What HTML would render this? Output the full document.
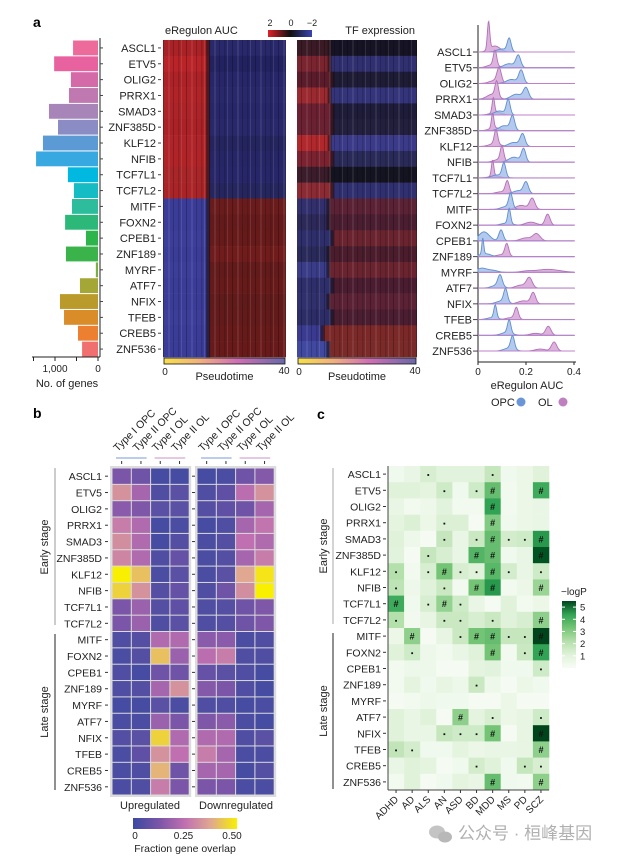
<!DOCTYPE html>
<html><head><meta charset="utf-8">
<style>
html,body{margin:0;padding:0;background:#fff;}
svg{display:block;font-family:"Liberation Sans","Noto Sans CJK SC",sans-serif;}
</style></head>
<body>
<svg id="fig" width="620" height="859" viewBox="0 0 620 859" xmlns="http://www.w3.org/2000/svg">
<defs>
<linearGradient id="ptGrad" x1="0" x2="1" y1="0" y2="0">
<stop offset="0" stop-color="#f6e04c"/><stop offset="0.3" stop-color="#f0b080"/><stop offset="0.6" stop-color="#d070b4"/><stop offset="1" stop-color="#6868a8"/></linearGradient>
<linearGradient id="aucGrad" x1="0" x2="1"><stop offset="0" stop-color="#e0202a"/><stop offset="0.5" stop-color="#101010"/><stop offset="1" stop-color="#3a44b0"/></linearGradient>
<linearGradient id="fracGrad" x1="0" x2="1"><stop offset="0" stop-color="#3a4aa0"/><stop offset="0.25" stop-color="#7a55a8"/><stop offset="0.5" stop-color="#c070b0"/><stop offset="0.75" stop-color="#e0a890"/><stop offset="1" stop-color="#f8f000"/></linearGradient>
<linearGradient id="logpGrad" x1="0" x2="0" y1="1" y2="0"><stop offset="0" stop-color="#f7fcf5"/><stop offset="0.2" stop-color="#e0f2da"/><stop offset="0.4" stop-color="#b4e0ab"/><stop offset="0.6" stop-color="#74c476"/><stop offset="0.8" stop-color="#31a354"/><stop offset="1" stop-color="#00441b"/></linearGradient>
<pattern id="stripes" patternUnits="userSpaceOnUse" width="23" height="10">
<rect x="2" y="0" width="1" height="10" fill="#000" opacity="0.25"/><rect x="7" y="0" width="2" height="10" fill="#fff" opacity="0.08"/><rect x="12" y="0" width="1" height="10" fill="#000" opacity="0.2"/><rect x="17" y="0" width="1.5" height="10" fill="#000" opacity="0.15"/><rect x="20" y="0" width="1" height="10" fill="#fff" opacity="0.1"/>
</pattern>
</defs>
<g id="root"></g>
</svg>
<script>
const tfs=["ASCL1","ETV5","OLIG2","PRRX1","SMAD3","ZNF385D","KLF12","NFIB","TCF7L1","TCF7L2","MITF","FOXN2","CPEB1","ZNF189","MYRF","ATF7","NFIX","TFEB","CREB5","ZNF536"];
const geneCounts=[580,1020,630,675,1140,930,1280,1440,700,560,605,765,280,745,50,420,885,790,465,370];
const barColors=["#ec6b9a","#e962a0","#d46aa8","#c078b0","#a785b8","#8c8cc4","#5b9ad4","#38a8e0","#00b8e0","#16bcc4","#2dbd9c","#2cb878","#2db44a","#3ab44a","#7ab040","#a4a636","#bb9a2c","#d98c28","#ec8030","#f07070"];
const barTicks=[1500,1000,500,0];
const barTickLabels={1000:"1,000",0:"0"};
const aucLeft=["#a82226","#b82428","#ac2226","#b02428","#ac2428","#aa2226","#ae2428","#b02428","#a82628","#a82426","#3a3c98","#3a3c98","#3c3e9a","#3a3c98","#3c3e9a","#3a3c98","#3a3c98","#3c3e9a","#3a3c98","#3a3c98"];
const aucRight=["#28286a","#222260","#262668","#28286a","#262668","#28286a","#24245e","#262666","#262668","#26265e","#6a1c1c","#641a1a","#661a1a","#701c1c","#621a1a","#661a1a","#601a1a","#621a1a","#661a1a","#681a1a"];
const tfLeft=["#3a1a24","#7a2430","#5a1c2a","#9a2a30","#6a2030","#6a2232","#b0282c","#7a2230","#3a1c2a","#8a2a32","#32306c","#2c2858","#2e2e6a","#2a2a5a","#3a3c88","#2e2e6a","#30306c","#2c2c66","#3a3a90","#4048a0"];
const tfRight=["#161424","#303070","#1e1c34","#34347a","#1e1c38","#22203c","#3a3a88","#2a2a58","#141420","#303070","#5a2234","#4a1e30","#6a2430","#4a1c2c","#6a2430","#4a1c30","#5a2234","#4a1e30","#7a2828","#7a2a28"];
const tfSplit=[0.28,0.28,0.3,0.28,0.3,0.3,0.28,0.3,0.28,0.3,0.27,0.27,0.3,0.27,0.27,0.3,0.27,0.3,0.22,0.27];
const opcMu=[0.13,0.168,0.18,0.2,0.126,0.144,0.186,0.19,0.108,0.2,0.136,0.13,0.096,0.02,0.015,0.092,0.115,0.072,0.13,0.144];
const opcH=[13,12,13,11,15,14,12,13,14,11,14,15,11,16,4,11,13,13,13,13];
const opcSd=[0.008,0.01,0.01,0.011,0.008,0.009,0.01,0.009,0.008,0.01,0.008,0.006,0.009,0.004,0.02,0.009,0.008,0.006,0.007,0.008];
const opc2Mu=[0.1,0.13,0.14,0.16,0.09,0.11,0.15,0.15,0.08,0.17,0.12,0.12,0.025,0.03,0.06,0.08,0.1,0.06,0.12,0.13];
const opc2H=[3,4,4,5,4,5,4,5,3,3,3,2,9,3,2,3,3,2,3,3];
const olMu=[0.044,0.071,0.088,0.078,0.064,0.061,0.075,0.1,0.061,0.122,0.226,0.29,0.244,0.12,0.29,0.214,0.23,0.16,0.293,0.317];
const olH=[28,15,14,15,15,15,14,14,16,12,11,11,7,12,3,10,11,11,9,9];
const olSd=[0.005,0.007,0.009,0.007,0.005,0.005,0.007,0.007,0.005,0.008,0.011,0.01,0.015,0.008,0.05,0.012,0.01,0.008,0.011,0.011];
const ol2Mu=[0.07,0.06,0.07,0.06,0.075,0.07,0.07,0.09,0.07,0.1,0.18,0.22,0.2,0.1,0.2,0.18,0.19,0.14,0.24,0.26];
const ol2H=[6,3,3,5,3,3,3,3,2,2,4,3,3,2,1,3,3,2,2,2];
const ridgeTicks=[0,0.2,0.4];
const groups=["Type I OPC","Type II OPC","Type I OL","Type II OL"];
const fracUp=[[.12,.10,.02,.02],[.33,.2,.04,.06],[.15,.13,.06,.06],[.28,.22,.02,.03],[.32,.22,.02,.05],[.3,.22,.04,.08],[.5,.42,.03,.06],[.45,.33,.05,.08],[.12,.18,.05,.07],[.12,.18,.04,.06],[.04,.05,.22,.22],[.03,.05,.42,.18],[.04,.02,.1,.1],[.04,.05,.2,.33],[.02,.02,.06,.03],[.03,.03,.18,.12],[.05,.06,.45,.22],[.03,.07,.33,.25],[.03,.04,.4,.1],[.03,.04,.28,.12]];
const fracDown=[[.02,.03,.10,.14],[.04,.07,.24,.33],[.05,.07,.1,.2],[.02,.04,.2,.26],[.03,.05,.25,.22],[.03,.05,.2,.28],[.03,.06,.38,.48],[.04,.1,.32,.5],[.04,.05,.1,.13],[.04,.05,.1,.13],[.15,.15,.03,.04],[.24,.28,.04,.04],[.08,.06,.04,.02],[.14,.12,.04,.02],[.04,.04,.02,.03],[.13,.15,.03,.02],[.22,.22,.04,.06],[.28,.2,.03,.03],[.2,.2,.02,.05],[.12,.12,.03,.03]];
const fracTicks=[0,0.25,0.5];
const fracTickLabels=["0","0.25","0.50"];
const diseases=["ADHD","AD","ALS","AN","ASD","BD","MDD","MS","PD","SCZ"];
const logP=[[.3,.6,1.2,.9,.9,.9,1.6,.3,.5,1.0],[1.0,1.0,.8,1.4,.3,1.4,3.2,.2,.5,3.8],[.6,.2,.4,.9,.2,.2,4,.2,.5,.6],[.8,1.1,.5,1.1,1.1,.1,2.8,.3,.5,.6],[1.0,.4,.1,1.6,.6,1.5,3.2,1.3,1.4,4.2],[.9,.1,1.6,1.2,.6,3.5,3.2,.3,.6,5.3],[2,.2,1.2,3,1.2,1,3.4,1.3,.6,1.4],[1.8,.4,1.0,1.5,.2,3,4.2,.2,.5,2.4],[3.8,.3,1.2,2.5,1.4,.6,.1,1.0,.2,.5],[2,.2,.7,1.5,1.5,1.2,1.5,1,1.2,2.6],[.5,2.6,.1,.7,1.5,3,3.2,1.6,1.6,5.5],[1,1.4,.4,.2,.6,1,3,.2,1.5,4],[.2,.4,.4,.1,.1,.8,.9,.3,.3,1.4],[.2,.8,.3,.7,.4,1.5,.4,.1,.5,.3],[.1,.2,.4,.3,.3,.1,.1,.5,.1,.1],[1,.6,1,.1,2.6,.8,1.2,.5,.7,1.4],[1,.6,.6,1.6,1.4,1.4,3,.1,.7,5.5],[1.7,1.3,.3,.3,.8,.5,.6,.6,.7,2.6],[.6,1,.8,.1,.3,1.3,1,.3,1.6,1.2],[.2,1,.1,.3,.8,.6,3.2,.3,.2,2.6]];
const marks=[
"  .   .   ","   . .#  #","      #   ","   .  #   ","   . .#..#","  .  ##  #",". .#..#. .",".  . ##  #","# .#.     ",".  .. .  #",
" #  .##..#"," .    # .#","         .","     .    ","          ","    # .  .","   ...#  #","..       #","     .  ..","      #  #"];
const logTicks=[1,2,3,4,5];

const svg=document.getElementById('root');
const NS="http://www.w3.org/2000/svg";
function mk(tag,attrs,parent){const e=document.createElementNS(NS,tag);for(const k in attrs)e.setAttribute(k,attrs[k]);(parent||svg).appendChild(e);return e;}
function txt(x,y,s,attrs,parent){const t=mk('text',Object.assign({x:x,y:y,'font-size':11,fill:'#222'},attrs||{}),parent);t.textContent=s;return t;}

// ---------- Panel a ----------
const rowTop=40,rowH=15.85;
const rowY=i=>rowTop+i*rowH;
const barX=v=>98-v*0.043;
let t=txt(33,27,"a",{'font-weight':'bold','font-size':14,fill:'#000'});

mk('line',{x1:100,y1:38,x2:100,y2:357,stroke:'#222','stroke-width':1});
mk('line',{x1:32,y1:357,x2:100,y2:357,stroke:'#222','stroke-width':1});
tfs.forEach((n,i)=>{
  const r=mk('rect',{x:barX(geneCounts[i]),y:rowY(i)+0.5,width:98-barX(geneCounts[i]),height:rowH-1,fill:barColors[i]});
  
  
  mk('line',{x1:100,y1:rowY(i)+rowH/2,x2:103,y2:rowY(i)+rowH/2,stroke:'#444'});
});
barTicks.forEach(v=>{mk('line',{x1:barX(v),y1:357,x2:barX(v),y2:361,stroke:'#222'});
 if(barTickLabels[v]!==undefined){const l=txt(barX(v),372,barTickLabels[v],{'text-anchor':'middle','font-size':10});}});
t=txt(67,387,"No. of genes",{'text-anchor':'middle','font-size':11});

tfs.forEach((n,i)=>{const l=txt(156,rowY(i)+rowH/2+4,n,{'text-anchor':'end','font-size':11});
 
 mk('line',{x1:158,y1:rowY(i)+rowH/2,x2:161,y2:rowY(i)+rowH/2,stroke:'#444'});});

function heat(x0,x1,left,right,split,name){
  const g=mk('g',{});
  tfs.forEach((n,i)=>{const xs=x0+(x1-x0)*split[i];
    mk('rect',{x:x0,y:rowY(i),width:xs-x0,height:rowH+0.3,fill:left[i]},g);
    mk('rect',{x:xs,y:rowY(i),width:x1-xs,height:rowH+0.3,fill:right[i]},g);
    mk('rect',{x:xs-3,y:rowY(i),width:4,height:rowH+0.3,fill:'#1a0e14',opacity:0.6},g);
  });
  mk('rect',{x:x0,y:rowTop,width:x1-x0,height:rowH*20,fill:'url(#stripes)'},g);
}
heat(163,286,aucLeft,aucRight,tfs.map(()=>0.375),'eregulon-auc-heatmap');
heat(297,417,tfLeft,tfRight,tfSplit,'tf-expression-heatmap');
t=txt(165,34,"eRegulon AUC",{'font-size':11});
t=txt(415,34,"TF expression",{'font-size':11,'text-anchor':'end'});
let cb=mk('rect',{x:268,y:30,width:44,height:7,fill:'url(#aucGrad)'});
txt(270,26,"2",{'font-size':9,'text-anchor':'middle'});txt(291,26,"0",{'font-size':9,'text-anchor':'middle'});txt(312,26,"−2",{'font-size':9,'text-anchor':'middle'});
[[163,286],[297,417]].forEach((p,k)=>{
  const b=mk('rect',{x:p[0]+1,y:358,width:p[1]-p[0]-2,height:6,fill:'url(#ptGrad)',stroke:'#111','stroke-width':0.8});
  
  txt(p[0]+2,375,"0",{'font-size':10,'text-anchor':'middle'});txt(p[1]-2,374,"40",{'font-size':10,'text-anchor':'middle'});
  const l=txt((p[0]+p[1])/2,380,"Pseudotime",{'font-size':11,'text-anchor':'middle'});
});

const rx=v=>478+v*240;
const ridgeBase=i=>52+i*15.74;
const gauss=(x,m,s)=>Math.exp(-0.5*((x-m)/s)*((x-m)/s));
mk('line',{x1:478,y1:25,x2:478,y2:362,stroke:'#222'});
mk('line',{x1:478,y1:362,x2:576,y2:362,stroke:'#222'});
tfs.forEach((n,i)=>{
  const y0=ridgeBase(i);
  const l=txt(472,y0+4,n,{'text-anchor':'end','font-size':11});
  mk('line',{x1:473,y1:y0,x2:478,y2:y0,stroke:'#444'});
  const dens=(x,m,h,s,m2,h2)=>h*gauss(x,m,s)+h2*gauss(x,m2,0.022);
  const series=[["ol",olMu[i],olH[i],olSd[i],ol2Mu[i],ol2H[i],'#d4a0d4','#b070b8'],["opc",opcMu[i],opcH[i],opcSd[i],opc2Mu[i],opc2H[i],'#a0bce8','#5f8fd0']];
  series.forEach(s=>{
    let d="M"+rx(0)+","+y0;
    for(let k=0;k<=160;k++){const x=k*0.4/160;d+=" L"+rx(x).toFixed(2)+","+(y0-dens(x,s[1],s[2],s[3],s[4],s[5])).toFixed(2);}
    d+=" L"+rx(0.4)+","+y0+" Z";
    const p=mk('path',{d:d,fill:s[6],'fill-opacity':0.8,stroke:s[7],'stroke-width':0.9});
    
    
  });
  mk('line',{x1:478,y1:y0,x2:575,y2:y0,stroke:'#c080c8','stroke-width':1});
});
ridgeTicks.forEach(v=>{mk('line',{x1:rx(v),y1:362,x2:rx(v),y2:365,stroke:'#222'});txt(rx(v),375,String(v),{'font-size':10,'text-anchor':'middle'});});
t=txt(527,389,"eRegulon AUC",{'font-size':11,'text-anchor':'middle'});
let lg=mk('g',{});
txt(491,406,"OPC",{'font-size':11},lg);mk('circle',{cx:521,cy:402,r:4.5,fill:'#6a96d8'},lg);
txt(538,406,"OL",{'font-size':11},lg);mk('circle',{cx:563,cy:402,r:4.5,fill:'#c080c0'},lg);

// ---------- Panel b ----------
t=txt(33,418,"b",{'font-weight':'bold','font-size':14,fill:'#000'});
const bTop=468,bRowH=16.35,bColW=19.3;
const bLeft=[112,197];
const fracScale=[[0,[58,74,160]],[0.12,[122,85,168]],[0.25,[192,112,176]],[0.38,[224,168,144]],[0.5,[248,240,0]]];
function fracColor(v){v=Math.max(0,Math.min(0.5,v));for(let k=1;k<fracScale.length;k++){if(v<=fracScale[k][0]){const a=fracScale[k-1],b=fracScale[k],f=(v-a[0])/(b[0]-a[0]);return 'rgb('+a[1].map((c,j)=>Math.round(c+(b[1][j]-c)*f)).join(',')+')';}}return 'rgb(248,240,0)';}
[fracUp,fracDown].forEach((mat,bk)=>{
  const x0=bLeft[bk];
  const bg=mk('rect',{x:x0-2,y:bTop-2,width:bColW*4+4,height:bRowH*20+4,fill:'#dcdcdc'});
  
  mat.forEach((row,i)=>row.forEach((v,j)=>{
    const c=mk('rect',{x:x0+j*bColW+0.5,y:bTop+i*bRowH+0.5,width:bColW-1,height:bRowH-1,fill:fracColor(v)});
    
    
  }));
  groups.forEach((gname,j)=>{const cx=x0+j*bColW+bColW/2;
    const l=txt(cx-4,452,gname,{'font-size':10.5,transform:'rotate(-45 '+(cx-4)+' 452)'});
    mk('line',{x1:cx,y1:461,x2:cx,y2:464,stroke:'#333'});});
  mk('line',{x1:x0+4,y1:458,x2:x0+2*bColW-4,y2:458,stroke:'#7a9ad8','stroke-width':1});
  mk('line',{x1:x0+2*bColW+4,y1:458,x2:x0+4*bColW-4,y2:458,stroke:'#c890c8','stroke-width':1});
});
tfs.forEach((n,i)=>{const y=bTop+i*bRowH+bRowH/2;
  const l=txt(102,y+4,n,{'text-anchor':'end','font-size':10.5});
  mk('line',{x1:105,y1:y,x2:108,y2:y,stroke:'#333'});mk('line',{x1:192,y1:y,x2:195,y2:y,stroke:'#333'});});
mk('line',{x1:55,y1:468,x2:55,y2:625,stroke:'#999'});mk('line',{x1:55,y1:634,x2:55,y2:790,stroke:'#222'});
t=txt(48,547,"Early stage",{'font-size':11,'text-anchor':'middle',transform:'rotate(-90 48 547)'});
t=txt(48,712,"Late stage",{'font-size':11,'text-anchor':'middle',transform:'rotate(-90 48 712)'});
t=txt(150,809,"Upregulated",{'font-size':11,'text-anchor':'middle'});
t=txt(236,809,"Downregulated",{'font-size':11,'text-anchor':'middle'});
cb=mk('rect',{x:133,y:818,width:104,height:11,fill:'url(#fracGrad)'});
const fx=v=>135+v*2*97;
fracTicks.forEach((v,k)=>txt(fx(v),839,fracTickLabels[k],{'font-size':10,'text-anchor':'middle'}));
t=txt(185,852,"Fraction gene overlap",{'font-size':10.5,'text-anchor':'middle'});

// ---------- Panel c ----------
t=txt(317,419,"c",{'font-weight':'bold','font-size':14,fill:'#000'});
const cTop=466,cRowH=16.2,cLeft=388,cColW=16.1;
const gScale=[[0,[247,252,245]],[1,[224,242,218]],[2,[180,224,171]],[3,[116,196,118]],[4,[49,163,84]],[5,[0,109,44]],[5.5,[0,68,27]]];
function gColor(v){v=Math.max(0,Math.min(5.5,v));for(let k=1;k<gScale.length;k++){if(v<=gScale[k][0]){const a=gScale[k-1],b=gScale[k],f=(v-a[0])/(b[0]-a[0]);return 'rgb('+a[1].map((c,j)=>Math.round(c+(b[1][j]-c)*f)).join(',')+')';}}return 'rgb(0,68,27)';}
logP.forEach((row,i)=>row.forEach((v,j)=>{
  const c=mk('rect',{x:cLeft+j*cColW,y:cTop+i*cRowH,width:cColW+0.3,height:cRowH+0.3,fill:gColor(v)});
  
  
  const m=(marks[i]||"")[j];
  if(m==='#'){txt(cLeft+j*cColW+cColW/2,cTop+i*cRowH+cRowH/2+3.5,"#",{'font-size':9,'font-weight':'bold','text-anchor':'middle',fill:'#111'});}
  else if(m==='.'){mk('rect',{x:cLeft+j*cColW+cColW/2-0.9,y:cTop+i*cRowH+cRowH/2,width:1.8,height:1.8,fill:'#111'});}
}));
mk('line',{x1:cLeft,y1:cTop,x2:cLeft,y2:cTop+20*cRowH,stroke:'#444'});
mk('line',{x1:cLeft,y1:cTop+20*cRowH,x2:cLeft+10*cColW,y2:cTop+20*cRowH,stroke:'#444'});
tfs.forEach((n,i)=>{const y=cTop+i*cRowH+cRowH/2;
  const l=txt(381,y+4,n,{'text-anchor':'end','font-size':10.5});
  mk('line',{x1:383,y1:y,x2:386,y2:y,stroke:'#333'});});
diseases.forEach((d,j)=>{const cx=cLeft+j*cColW+cColW/2;
  mk('line',{x1:cx,y1:cTop+20*cRowH,x2:cx,y2:cTop+20*cRowH+3,stroke:'#333'});
  const l=txt(cx+3,800,d,{'font-size':10,'text-anchor':'end',transform:'rotate(-45 '+(cx+3)+' 800)'});});
mk('line',{x1:333,y1:468,x2:333,y2:624,stroke:'#aaa'});mk('line',{x1:333,y1:633,x2:333,y2:789,stroke:'#222'});
t=txt(327,546,"Early stage",{'font-size':11,'text-anchor':'middle',transform:'rotate(-90 327 546)'});
t=txt(327,711,"Late stage",{'font-size':11,'text-anchor':'middle',transform:'rotate(-90 327 711)'});
t=txt(561,595,"−logP",{'font-size':10});
cb=mk('rect',{x:562,y:601,width:14,height:67,fill:'url(#logpGrad)'});
const ly=v=>668-v*(67/5.5);
logTicks.forEach(v=>{mk('line',{x1:562,y1:ly(v),x2:565,y2:ly(v),stroke:'#fff'});mk('line',{x1:573,y1:ly(v),x2:576,y2:ly(v),stroke:'#fff'});txt(580,ly(v)+3.5,String(v),{'font-size':9.5});});

let wm=mk('g',{});
mk('ellipse',{cx:437,cy:832,rx:8,ry:6.5,fill:'#c4c4c4'},wm);mk('ellipse',{cx:445,cy:837,rx:7,ry:5.5,fill:'#b8b8b8'},wm);
txt(458,839,"公众号 · 桓峰基因",{'font-size':17,fill:'#b0b0b0'},wm);
</script>
</body></html>
